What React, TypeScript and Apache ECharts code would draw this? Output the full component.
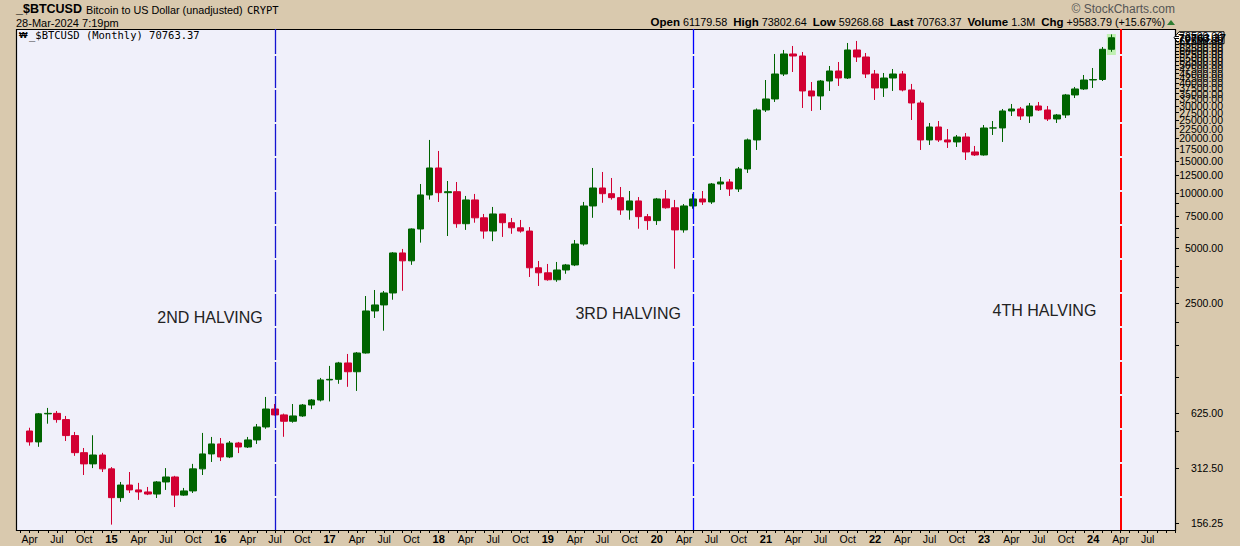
import React, { useEffect, useRef } from "react";
import * as echarts from "echarts";

// ---------- data ----------
const MONTH_NAMES = ["Jan", "Feb", "Mar", "Apr", "May", "Jun", "Jul", "Aug", "Sep", "Oct", "Nov", "Dec"];
const FIRST_YEAR = 2014;
const FIRST_MONTH = 2; // Mar 2014
const CATEGORY_COUNT = 128; // Mar 2014 .. Oct 2024
const categories: string[] = [];
for (let i = 0; i < CATEGORY_COUNT; i++) {
  const t = FIRST_MONTH + i;
  categories.push(`${MONTH_NAMES[t % 12]} ${FIRST_YEAR + Math.floor(t / 12)}`);
}

const FIRST_CANDLE = "Apr 2014";
// monthly [open, high, low, close], Apr 2014 .. Mar 2024
const ohlc: number[][] = [
  [498, 519, 414, 434], [434, 625, 408, 618], [618, 666, 546, 622], [622, 641, 553, 575],
  [575, 602, 439, 470], [470, 492, 364, 379], [379, 402, 286, 329], [329, 472, 312, 368],
  [368, 378, 297, 309],
  [309, 316, 153, 215], [215, 262, 204, 252], [252, 297, 228, 237], [237, 259, 209, 231],
  [231, 246, 222, 225], [225, 265, 214, 262], [262, 312, 237, 279], [279, 283, 191, 222],
  [222, 243, 220, 234], [234, 329, 228, 309], [309, 486, 286, 373], [373, 462, 337, 423],
  [423, 456, 341, 359], [359, 439, 354, 428], [428, 434, 377, 407], [407, 462, 402, 445],
  [445, 544, 423, 524], [524, 765, 512, 657], [657, 700, 605, 610], [610, 620, 463, 563],
  [563, 700, 553, 602], [602, 700, 595, 691], [691, 745, 656, 736], [736, 972, 723, 948],
  [948, 1131, 723, 955], [955, 1190, 903, 1174], [1174, 1315, 869, 1051], [1051, 1348, 825, 1331],
  [1331, 2730, 1321, 2261], [2261, 2945, 2070, 2439], [2439, 2908, 1763, 2836], [2836, 4750, 2605, 4697],
  [4697, 4940, 2916, 4253], [4253, 6400, 4043, 6354], [6354, 11201, 5350, 9757], [9757, 19513, 9196, 13706],
  [13706, 16985, 8930, 10038], [10038, 11633, 5815, 10165], [10165, 11487, 6450, 6790], [6790, 9635, 6280, 9160],
  [9160, 9880, 6876, 7315], [7315, 7677, 5620, 6190], [6190, 8386, 5450, 7677], [7677, 7700, 5748, 6876],
  [6876, 7299, 5980, 6450], [6450, 7117, 6066, 6190], [6190, 6507, 3470, 3896], [3896, 4246, 3098, 3657],
  [3657, 4088, 3310, 3350], [3350, 4193, 3265, 3790], [3790, 4088, 3613, 4037], [4037, 5530, 3980, 5258],
  [5258, 8932, 5150, 8492], [8492, 13706, 7315, 10650], [10650, 13032, 8838, 9912], [9912, 12081, 9196, 9430],
  [9430, 10786, 7590, 8075], [8075, 10255, 7140, 9046], [9046, 9500, 6375, 7420], [7420, 7677, 6280, 7060],
  [7060, 9394, 6685, 9276], [9276, 10385, 8200, 8300], [8300, 9160, 3850, 6280], [6280, 8700, 6066, 8492],
  [8492, 9900, 8200, 9276], [9276, 10255, 8600, 8932], [8932, 11343, 8710, 11201], [11201, 12235, 10385, 11487],
  [11487, 11930, 9635, 10517], [10517, 13880, 10127, 13534], [13534, 19860, 12868, 19513], [19513, 29000, 17200, 28470],
  [28470, 41540, 27760, 32708], [32708, 57660, 31492, 44804], [44804, 60644, 43688, 57660], [57660, 63784, 45948, 56224],
  [56224, 59136, 29196, 36182], [36182, 40508, 28112, 33970], [33970, 41540, 28470, 41020], [41020, 49560, 36182, 46532],
  [46532, 52128, 38538, 42600], [42600, 66244, 42068, 60644], [60644, 67940, 52128, 55520], [55520, 58392, 42600, 44804],
  [44804, 47124, 32298, 37578], [37578, 45372, 33544, 42600], [42600, 47720, 36182, 44804], [44804, 46532, 36000, 36640],
  [36640, 39522, 25096, 31098], [31098, 32000, 17200, 19513], [19513, 24162, 18320, 22974], [22974, 24780, 19027, 19513],
  [19513, 22402, 17640, 19027], [19027, 20770, 17864, 20254], [20254, 21300, 15161, 16772], [16772, 18091, 15946, 16149],
  [16149, 23562, 16000, 22686], [22686, 24780, 20770, 22700], [22700, 28830, 19027, 28112], [28112, 30708, 26390, 28830],
  [28830, 29568, 25096, 26390], [26390, 31098, 24162, 29942], [29942, 31492, 28112, 28470], [28470, 29942, 24780, 25414],
  [25414, 27068, 24162, 26730], [26730, 34838, 25736, 34400], [34400, 38054, 33098, 37106], [37106, 44244, 36640, 41540],
  [41540, 48324, 37578, 41800], [41800, 62984, 41020, 61180], [61179.58, 73802.64, 59268.68, 70763.37],
];

const halvingMonths = ["Jul 2016", "May 2020", "Apr 2024"];
const halvingColors = ["#1414d2", "#0000ff", "#ff0000"];
const halvingWidths = [1.3, 1.3, 2];
const halvingLabels = ["2ND HALVING", "3RD HALVING", "4TH HALVING"];

const priceTickLabels = [
  156.25, 312.5, 625, 2500, 5000, 7500, 10000, 12500, 15000, 17500, 20000, 22500, 25000, 27500,
  30000, 32500, 35000, 37500, 40000, 42500, 45000, 47500, 50000, 52500, 55000, 57500, 60000,
  62500, 65000, 67500, 70000, 72500, 75000,
];
const priceMinorTicks = [494, 980, 1470, 1960, 3030, 3470, 3950, 5750, 6400, 8750];

const Y_MIN = 143;
const Y_MAX = 79000;
const HIGHLIGHT_VALUE = 65000;

// ---------- layout ----------
const W = 1240;
const H = 546;
const PLOT_LEFT = 16;
const PLOT_RIGHT = 1175;
const PLOT_TOP = 29;
const PLOT_BOTTOM = 530;
const GRID_LEFT = 20.5;

const GREEN = "#006400";
const RED = "#d20032";
const FONT = "Liberation Sans, Arial, sans-serif";
const MONO = "DejaVu Sans Mono, monospace";

export default function App() {
  const ref = useRef<HTMLDivElement | null>(null);

  useEffect(() => {
    if (!ref.current) return;
    const chart = echarts.init(ref.current, null, { renderer: "svg" });

    const startIdx = categories.indexOf(FIRST_CANDLE);
    const candleData: any[] = [];
    for (let i = 0; i < startIdx; i++) candleData.push(["-", "-", "-", "-"]);
    ohlc.forEach(([o, h, l, c]) => candleData.push([o, c, l, h]));
    const lastIdx = startIdx + ohlc.length - 1;
    const last = ohlc[ohlc.length - 1];

    const l2 = (v: number) => Math.log2(v);

    chart.setOption({
      animation: false,
      backgroundColor: "#d9c9ae",
      grid: {
        left: GRID_LEFT,
        top: PLOT_TOP,
        width: PLOT_RIGHT - GRID_LEFT,
        height: PLOT_BOTTOM - PLOT_TOP,
        show: false,
      },
      xAxis: {
        type: "category",
        data: categories,
        boundaryGap: false,
        axisLine: { show: false },
        splitLine: { show: false },
        axisTick: { show: true, interval: 0, length: 3, lineStyle: { color: "#000" } },
        axisLabel: {
          margin: 3,
          interval: (idx: number, val: string) => {
            const m = MONTH_NAMES.indexOf(val.split(" ")[0]);
            return idx < CATEGORY_COUNT - 1 && m % 3 === 0;
          },
          formatter: (val: string) => {
            const [mn, yr] = val.split(" ");
            if (mn === "Jan") return `{y|${yr.slice(2)}}`;
            return `{m|${mn}}`;
          },
          rich: {
            y: { fontFamily: FONT, fontSize: 11, fontWeight: "bold", color: "#000" },
            m: { fontFamily: FONT, fontSize: 10.5, color: "#000" },
          },
        },
      },
      yAxis: [
        {
          type: "log",
          logBase: 2,
          min: Y_MIN,
          max: Y_MAX,
          show: false,
          position: "right",
          splitLine: { show: false },
        },
        {
          type: "value",
          min: l2(Y_MIN),
          max: l2(Y_MAX),
          position: "right",
          axisLine: { show: false },
          splitLine: { show: false },
          axisTick: {
            show: true,
            length: 4,
            lineStyle: { color: "#000" },
            customValues: [...priceTickLabels, ...priceMinorTicks].map(l2),
          },
          axisLabel: {
            show: true,
            align: "right",
            margin: 48,
            fontFamily: FONT,
            fontSize: 10.5,
            color: "#000",
            customValues: priceTickLabels.map(l2),
            formatter: (v: number) => Math.pow(2, v).toFixed(2),
          },
        },
      ],
      series: [
        {
          type: "scatter",
          xAxisIndex: 0,
          yAxisIndex: 0,
          z: 1,
          silent: true,
          symbol: "rect",
          symbolSize: [9, 21],
          itemStyle: { color: "#b4f0a0" },
          data: [[categories[lastIdx], HIGHLIGHT_VALUE]],
        },
        {
          type: "candlestick",
          xAxisIndex: 0,
          yAxisIndex: 0,
          z: 2,
          barWidth: 7,
          data: candleData,
          itemStyle: {
            color: GREEN,
            color0: RED,
            borderColor: GREEN,
            borderColor0: RED,
            borderWidth: 1,
          },
          markLine: {
            silent: true,
            symbol: ["none", "none"],
            label: { show: false },
            data: halvingMonths.map((m, i) => ({
              xAxis: categories.indexOf(m),
              lineStyle: { color: halvingColors[i], width: halvingWidths[i], type: [32, 2], opacity: 1 },
            })),
          },
        },
      ],
    });

    const ty = chart.convertToPixel({ yAxisIndex: 0 }, last[3]) as number;
    const labelX = halvingMonths.map((m) => chart.convertToPixel({ xAxisIndex: 0 }, categories.indexOf(m)) as number);

    chart.setOption({
      graphic: [
        {
          type: "rect",
          id: "plotbg",
          z: -10,
          silent: true,
          shape: { x: PLOT_LEFT + 0.5, y: PLOT_TOP + 0.5, width: PLOT_RIGHT - PLOT_LEFT, height: PLOT_BOTTOM - PLOT_TOP },
          style: { fill: "#f0f0fa", stroke: "#000", lineWidth: 1.2 },
        },
        {
          type: "text", id: "sym", x: 16, y: 9,
          style: { text: "_$BTCUSD", font: `bold 12.5px ${FONT}`, fill: "#000", textVerticalAlign: "middle" },
        },
        {
          type: "text", id: "name", x: 86, y: 10,
          style: { text: "Bitcoin to US Dollar (unadjusted)", font: `10.8px ${FONT}`, fill: "#000", textVerticalAlign: "middle" },
        },
        {
          type: "text", id: "exch", x: 247, y: 10,
          style: { text: "CRYPT", font: `10.5px ${MONO}`, fill: "#000", textVerticalAlign: "middle" },
        },
        {
          type: "text", id: "date", x: 16, y: 22.5,
          style: { text: "28-Mar-2024 7:19pm", font: `11px ${FONT}`, fill: "#000", textVerticalAlign: "middle" },
        },
        {
          type: "text", id: "copy", x: 1175, y: 9,
          style: { text: "© StockCharts.com", font: `12px ${FONT}`, fill: "#555", textAlign: "right", textVerticalAlign: "middle" },
        },
        {
          type: "text", id: "quote", x: 1165, y: 22,
          style: {
            text: "{b|Open} 61179.58  {b|High} 73802.64  {b|Low} 59268.68  {b|Last} 70763.37  {b|Volume} 1.3M  {b|Chg} +9583.79 (+15.67%)",
            font: `10.8px ${FONT}`,
            fill: "#000",
            textAlign: "right",
            textVerticalAlign: "middle",
            rich: { b: { font: `bold 11.5px ${FONT}`, fill: "#000" } },
          },
        },
        {
          type: "polygon", id: "uptri",
          shape: { points: [[1167, 25], [1175, 25], [1171, 20]] },
          style: { fill: "#2e7d32" },
        },
        {
          type: "text", id: "icon", x: 19, y: 35,
          style: { text: "₩", font: `bold 9px ${FONT}`, fill: "#000", textVerticalAlign: "middle" },
        },
        {
          type: "text", id: "legend", x: 29, y: 35,
          style: { text: "_$BTCUSD (Monthly) 70763.37", font: `10.5px ${MONO}`, fill: "#000", textVerticalAlign: "middle" },
        },
        ...halvingLabels.map((t, i) => ({
          type: "text",
          id: "hl" + i,
          x: labelX[i] - 65 + (i === 2 ? -11 : 0),
          y: [317.5, 313, 310][i],
          style: { text: t, font: `16px ${FONT}`, fill: "#222", textAlign: "center", textVerticalAlign: "middle" },
        })),
        {
          type: "group",
          id: "tag",
          x: PLOT_RIGHT - 1,
          y: ty,
          children: [
            {
              type: "polygon",
              shape: { points: [[0, 0], [5, -6], [50, -6], [50, 6], [5, 6]] },
              style: { fill: "#fff", stroke: "#000", lineWidth: 1 },
            },
            {
              type: "text",
              x: 28,
              y: 0.5,
              style: {
                text: last[3].toFixed(2),
                font: `bold 11.5px ${FONT}`,
                fill: "#000",
                textAlign: "center",
                textVerticalAlign: "middle",
              },
            },
          ],
        },
      ],
    });

    return () => chart.dispose();
  }, []);

  return (
    <div
      ref={ref}
      style={{ position: "fixed", left: 0, top: 0, width: W, height: H }}
    />
  );
}
